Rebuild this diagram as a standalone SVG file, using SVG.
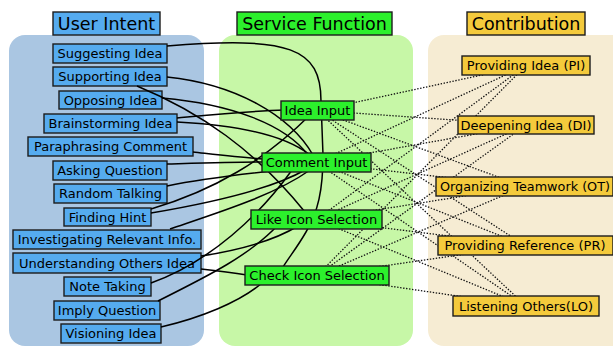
<svg xmlns="http://www.w3.org/2000/svg" width="613" height="347" viewBox="0 0 613 347">
<style>
text{font-family:"DejaVu Sans","Liberation Sans",sans-serif;fill:#000;text-anchor:middle}
.hd{font-size:17.5px}
.nt{font-size:13px}
.b{fill:#55abef;stroke:#1c1c1c;stroke-width:1.4}
.g{fill:#2cf02c;stroke:#1c1c1c;stroke-width:1.4}
.y{fill:#f4ca3c;stroke:#1c1c1c;stroke-width:1.4}
.s{fill:none;stroke:#000;stroke-width:1.5}
.d{fill:none;stroke:#111;stroke-width:1.3;stroke-dasharray:1.4 1.6}
</style>
<rect width="613" height="347" fill="#fff"/>
<g id="panels">
<rect x="9" y="35" width="195" height="311" rx="16" fill="#aac6e2"/>
<rect x="219" y="35" width="194" height="311" rx="16" fill="#c7f7a7"/>
<rect x="428" y="35" width="200" height="311" rx="16" fill="#f6ecd3"/>
</g>
<g id="header-user-intent"><rect class="b" x="53" y="12" width="107" height="23"/><text class="hd" x="106.5" y="30">User Intent</text></g>
<g id="header-service-function"><rect class="g" x="237" y="12" width="155" height="23"/><text class="hd" x="314.5" y="30">Service Function</text></g>
<g id="header-contribution"><rect class="y" x="467" y="12" width="118" height="23"/><text class="hd" x="526" y="30">Contribution</text></g>

<g id="n-suggesting"><rect class="b" x="53" y="44" width="114" height="19"/><text class="nt" x="110" y="58.2">Suggesting Idea</text></g>
<g id="n-supporting"><rect class="b" x="53" y="67" width="114" height="19"/><text class="nt" x="110" y="81.2">Supporting Idea</text></g>
<g id="n-opposing"><rect class="b" x="59" y="91" width="103" height="18"/><text class="nt" x="110.5" y="104.7">Opposing Idea</text></g>
<g id="n-brainstorming"><rect class="b" x="44" y="114" width="133" height="19"/><text class="nt" x="110.5" y="128.2">Brainstorming Idea</text></g>
<g id="n-paraphrasing"><rect class="b" x="28" y="137" width="165" height="19"/><text class="nt" x="110.5" y="151.2">Paraphrasing Comment</text></g>
<g id="n-asking"><rect class="b" x="53" y="161" width="114" height="19"/><text class="nt" x="110" y="175.2">Asking Question</text></g>
<g id="n-random"><rect class="b" x="54" y="184" width="113" height="19"/><text class="nt" x="110.5" y="198.2">Random Talking</text></g>
<g id="n-finding"><rect class="b" x="64" y="208" width="87" height="18"/><text class="nt" x="107.5" y="221.7">Finding Hint</text></g>
<g id="n-investigating"><rect class="b" x="13" y="230" width="188" height="19"/><text class="nt" x="107" y="244.2">Investigating Relevant Info.</text></g>
<g id="n-understanding"><rect class="b" x="13" y="253" width="188" height="20"/><text class="nt" x="107" y="267.7">Understanding Others Idea</text></g>
<g id="n-note"><rect class="b" x="64" y="277" width="87" height="19"/><text class="nt" x="107.5" y="291.2">Note Taking</text></g>
<g id="n-imply"><rect class="b" x="54" y="301" width="106" height="19"/><text class="nt" x="107" y="315.2">Imply Question</text></g>
<g id="n-visioning"><rect class="b" x="61" y="324" width="100" height="19"/><text class="nt" x="111" y="338.2">Visioning Idea</text></g>

<g id="connectors">
<path class="s" d="M167,46 C290,36 321,48 321,101 L323,155 C323,190 318,212 306,232 C298,246 290,256 283,267"/>
<path class="s" d="M167,77 C235,84 290,115 313,155"/>
<path class="s" d="M137,86 C200,112 255,150 305,212"/>
<path class="s" d="M162,98 C230,104 285,124 308,155"/>
<path class="s" d="M177,118 C220,114 250,111 285,110"/>
<path class="s" d="M177,122 C235,125 285,135 310,155"/>
<path class="s" d="M193,152 C220,155 245,158 264,159"/>
<path class="s" d="M167,164 C205,163 240,162 264,162"/>
<path class="s" d="M167,186 C215,176 265,172 300,168"/>
<path class="s" d="M151,209 C215,190 265,160 310,115"/>
<path class="s" d="M151,213 C210,203 270,190 305,170"/>
<path class="s" d="M170,229 C220,212 275,195 310,170"/>
<path class="s" d="M201,256 C240,250 275,240 298,226"/>
<path class="s" d="M201,269 C220,271 235,273 247,275"/>
<path class="s" d="M151,283 C210,262 260,215 292,170"/>
<path class="s" d="M158,301 C210,275 250,255 278,225"/>
<path class="s" d="M161,327 C200,318 240,302 262,283"/>

<path class="d" d="M317.5,110.5 L526,65.5"/>
<path class="d" d="M317.5,110.5 L526,125"/>
<path class="d" d="M317.5,110.5 L524,186.5"/>
<path class="d" d="M317.5,110.5 L525,245.5"/>
<path class="d" d="M317.5,110.5 L526,306"/>
<path class="d" d="M316.5,162.5 L526,65.5"/>
<path class="d" d="M316.5,162.5 L526,125"/>
<path class="d" d="M316.5,162.5 L524,186.5"/>
<path class="d" d="M316.5,162.5 L525,245.5"/>
<path class="d" d="M316.5,162.5 L526,306"/>
<path class="d" d="M316.5,219.5 L526,65.5"/>
<path class="d" d="M316.5,219.5 L526,125"/>
<path class="d" d="M316.5,219.5 L524,186.5"/>
<path class="d" d="M316.5,219.5 L525,245.5"/>
<path class="d" d="M316.5,219.5 L526,306"/>
<path class="d" d="M317,275.5 L526,65.5"/>
<path class="d" d="M317,275.5 L526,125"/>
<path class="d" d="M317,275.5 L524,186.5"/>
<path class="d" d="M317,275.5 L525,245.5"/>
<path class="d" d="M317,275.5 L526,306"/>
</g>

<g id="n-idea-input"><rect class="g" x="281" y="101" width="73" height="19"/><text class="nt" x="317.5" y="115.2">Idea Input</text></g>
<g id="n-comment-input"><rect class="g" x="262" y="153" width="109" height="19"/><text class="nt" x="316.5" y="167.2">Comment Input</text></g>
<g id="n-like-icon"><rect class="g" x="251" y="210" width="131" height="19"/><text class="nt" x="316.5" y="224.2">Like Icon Selection</text></g>
<g id="n-check-icon"><rect class="g" x="245" y="266" width="144" height="19"/><text class="nt" x="317" y="280.2">Check Icon Selection</text></g>

<g id="n-pi"><rect class="y" x="462" y="56" width="128" height="19"/><text class="nt" x="526" y="70.2">Providing Idea (PI)</text></g>
<g id="n-di"><rect class="y" x="458" y="116" width="136" height="18"/><text class="nt" x="526" y="129.7">Deepening Idea (DI)</text></g>
<g id="n-ot"><rect class="y" x="436" y="177" width="177" height="19"/><text class="nt" x="525" y="191.2" textLength="170" lengthAdjust="spacingAndGlyphs">Organizing Teamwork (OT)</text></g>
<g id="n-pr"><rect class="y" x="438" y="236" width="175" height="19"/><text class="nt" x="525" y="250.2">Providing Reference (PR)</text></g>
<g id="n-lo"><rect class="y" x="453" y="296" width="146" height="20"/><text class="nt" x="526" y="310.7">Listening Others(LO)</text></g>
</svg>
